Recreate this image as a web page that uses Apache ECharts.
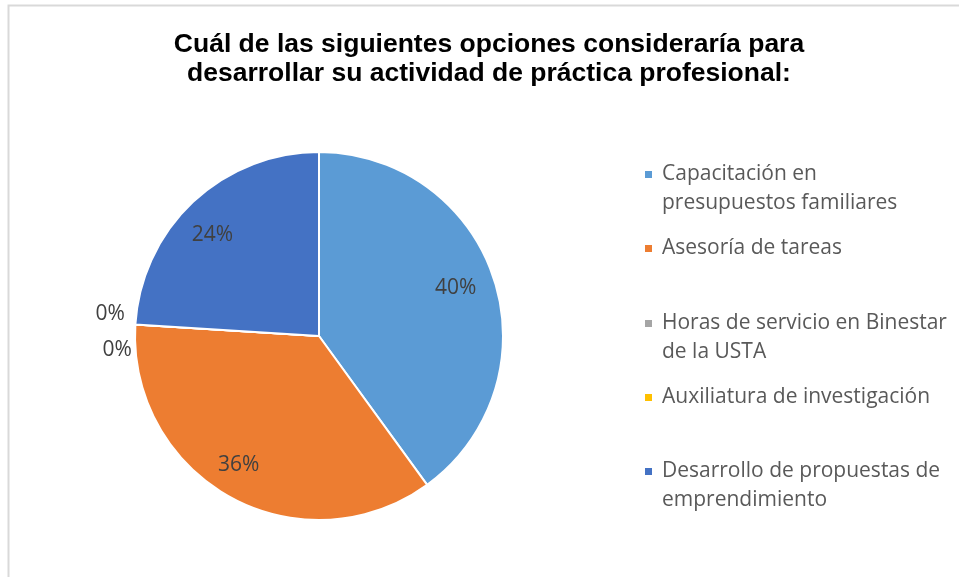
<!DOCTYPE html>
<html>
<head>
<meta charset="utf-8">
<script src="https://cdn.jsdelivr.net/npm/echarts@6/dist/echarts.min.js"></script>
<style>
  html, body { margin: 0; padding: 0; background: #fff; }
  #main { width: 959px; height: 577px; }
</style>
</head>
<body>
<div id="main"></div>
<script>
// datos del gráfico
const categories = [
  'Capacitación en presupuestos familiares',
  'Asesoría de tareas',
  'Horas de servicio en Binestar de la USTA',
  'Auxiliatura de investigación',
  'Desarrollo de propuestas de emprendimiento'
];
const values = [40, 36, 0, 0, 24];
const legendLabels = [
  'Capacitación en\npresupuestos familiares',
  'Asesoría de tareas',
  'Horas de servicio en Binestar\nde la USTA',
  'Auxiliatura de investigación',
  'Desarrollo de propuestas de\nemprendimiento'
];
const colors = ['#5B9BD5', '#ED7D31', '#A5A5A5', '#FFC000', '#4472C4'];

const titleText = 'Cuál de las siguientes opciones consideraría para\ndesarrollar su actividad de práctica profesional:';

let myChart = echarts.init(document.getElementById('main'));

// una leyenda por elemento, como en Excel (cada entrada ocupa el mismo alto)
// con dos líneas se antepone una línea vacía para que el cuadro quede a la altura de la primera
const legendTops = [131, 234, 280, 383, 428];
let legends = categories.map(function (name, i) {
  const txt = legendLabels[i];
  const shown = txt.indexOf('\n') >= 0 ? '\n' + txt : txt;
  return {
    orient: 'vertical',
    left: 643,
    top: legendTops[i],
    padding: 0,
    itemWidth: 9,
    itemHeight: 9,
    icon: 'rect',
    selectedMode: false,
    data: [name],
    formatter: function () { return shown; },
    textStyle: {
      fontFamily: 'Open Sans',
      fontSize: 21,
      lineHeight: 29,
      color: '#595959',
      padding: [0, 0, 0, 4]
    }
  };
});

let pieData = categories.map(function (name, i) {
  return { name: name, value: values[i], itemStyle: { color: colors[i] } };
});

// etiquetas: los 0% van fuera, a la izquierda
const labelOffsets = [[-6, -2], [-8, -2], [-52, 23], [-59, -13], [-4, 8]];
let labelData = categories.map(function (name, i) {
  return {
    name: name,
    value: values[i],
    label: { offset: labelOffsets[i] }
  };
});

myChart.setOption({
  animation: false,
  title: {
    text: titleText,
    left: 484,
    top: 25,
    textAlign: 'center',
    textStyle: {
      fontFamily: 'Liberation Sans',
      fontWeight: 'bold',
      fontSize: 26.5,
      lineHeight: 29,
      color: '#000000'
    }
  },
  legend: legends,
  graphic: [{
    type: 'rect',
    shape: { x: 8.5, y: 5.5, width: 1000, height: 1000 },
    style: { fill: 'none', stroke: '#d9d9d9', lineWidth: 2 },
    silent: true
  }],
  series: [
    {
      type: 'pie',
      center: [319, 336],
      radius: [0, 184],
      startAngle: 90,
      clockwise: true,
      silent: true,
      label: { show: false },
      labelLine: { show: false },
      itemStyle: { borderColor: '#ffffff', borderWidth: 2 },
      data: pieData
    },
    {
      // anillo transparente solo para colocar las etiquetas
      type: 'pie',
      center: [319, 336],
      radius: [110, 184],
      startAngle: 90,
      clockwise: true,
      silent: true,
      itemStyle: { color: 'transparent', borderWidth: 0 },
      labelLine: { show: false },
      label: {
        show: true,
        position: 'inside',
        formatter: '{c}%',
        fontFamily: 'Open Sans',
        fontSize: 21,
        color: '#404040'
      },
      data: labelData
    }
  ]
});
</script>
</body>
</html>
